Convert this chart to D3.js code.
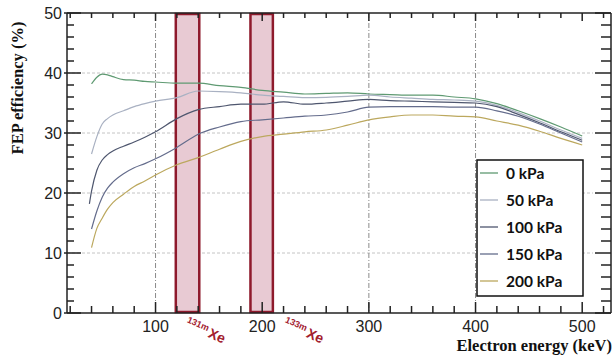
<!DOCTYPE html>
<html><head><meta charset="utf-8">
<script src="https://cdn.jsdelivr.net/npm/d3@7"></script>
<style>body{margin:0;background:#fff}svg{display:block}</style>
</head><body>
<svg id="c" width="614" height="355"></svg>
<script>
const energy = [38,40,45,50,55,60,70,80,90,100,120,140,160,180,200,220,240,260,280,300,320,340,360,380,400,420,440,460,480,500];
const kPa0   = [null,38.2,39.3,39.8,39.7,39.4,38.9,38.8,38.6,38.5,38.3,38.3,37.9,37.6,37.1,36.8,36.5,36.6,36.7,36.5,36.4,36.3,36.3,36.0,35.7,34.9,33.7,32.4,31.0,29.5];
const kPa50  = [null,26.5,29.4,31.5,32.4,33.0,33.7,34.4,34.9,35.3,35.9,37.0,36.9,36.7,36.3,36.1,35.9,35.95,36.1,36.3,36.0,35.8,35.6,35.5,35.3,34.6,33.4,32.0,30.5,29.1];
const kPa100 = [18.2,20.3,23.8,25.5,26.4,27.0,27.8,28.5,29.3,30.2,32.4,33.9,34.4,34.8,34.8,35.2,34.8,35.0,35.3,35.6,35.4,35.3,35.2,35.1,35.0,34.4,33.1,31.7,30.2,28.8];
const kPa150 = [null,14.0,17.0,19.3,20.8,21.8,23.2,24.2,24.9,25.7,27.6,29.8,31.0,31.9,32.2,32.5,32.8,33.0,33.5,34.3,34.4,34.4,34.4,34.3,34.3,33.7,32.8,31.5,30.0,28.5];
const kPa200 = [null,10.9,14.1,15.8,17.3,18.4,19.8,21.1,22.0,23.0,24.7,25.9,27.3,28.6,29.4,29.8,30.2,30.5,31.3,32.2,32.7,33.0,33.0,32.8,32.7,32.0,31.3,30.3,29.1,28.0];
const seriesNames = ["0 kPa","50 kPa","100 kPa","150 kPa","200 kPa"];
const seriesColors = ["#5f9a72","#a9b1c2","#4e566e","#646c8c","#bca85e"];
const seriesValues = [kPa0,kPa50,kPa100,kPa150,kPa200];
const xTicks = [100,200,300,400,500];
const yTicks = [0,10,20,30,40,50];
const bands = [[119,141],[189,210]];
const bandLabelAt = [129,221];
const bandLabels = [["131m","Xe"],["133m","Xe"]];

const svg = d3.select("#c");
const L=67,R=611,T=13,B=313;
const x = d3.scaleLinear().domain([17,527]).range([L,R]);
const y = d3.scaleLinear().domain([0,50]).range([B,T]);

// grid
const g = svg.append("g");
g.selectAll(".hg").data([10,20,30,40]).join("line")
 .attr("x1",L).attr("x2",R-18).attr("y1",d=>y(d)).attr("y2",d=>y(d))
 .attr("stroke","#c4c4c4").attr("stroke-width",1).attr("stroke-dasharray","3,2");
g.selectAll(".vg").data([100,200,300,400]).join("line")
 .attr("y1",T).attr("y2",B).attr("x1",d=>x(d)).attr("x2",d=>x(d))
 .attr("stroke","#8a8a8a").attr("stroke-width",1).attr("stroke-dasharray","5,2,1,2");

// bands
bands.forEach((b,i)=>{
  svg.append("rect").attr("x",x(b[0])).attr("width",x(b[1])-x(b[0]))
    .attr("y",T+1).attr("height",B-T-2)
    .attr("fill","#e8cad3").attr("stroke","#8e1a2c").attr("stroke-width",2.5);
  const t = svg.append("text").attr("transform",`translate(${x(bandLabelAt[i])},${B+9}) rotate(24)`)
    .attr("fill","#a3202e").attr("font-family","Liberation Sans, Arial, sans-serif").attr("font-weight","bold");
  t.append("tspan").attr("font-size",9).text(bandLabels[i][0]);
  t.append("tspan").attr("font-size",14).attr("dy",5).attr("dx",2).text(bandLabels[i][1]);
});

// lines
const line = d3.line().defined(d=>d[1]!=null).x(d=>x(d[0])).y(d=>y(d[1])).curve(d3.curveMonotoneX);
seriesValues.forEach((vals,i)=>{
  svg.append("path").datum(energy.map((e,j)=>[e,vals[j]]))
    .attr("d",line).attr("fill","none").attr("stroke",seriesColors[i]).attr("stroke-width",1.2);
});

// axes frame
const ax = svg.append("g").attr("stroke","#222").attr("stroke-width",1.5);
ax.append("line").attr("x1",L).attr("x2",R).attr("y1",B).attr("y2",B);
ax.append("line").attr("x1",L).attr("x2",R).attr("y1",T).attr("y2",T);
ax.append("line").attr("x1",L).attr("x2",L).attr("y1",T).attr("y2",B);
ax.append("line").attr("x1",R).attr("x2",R).attr("y1",T).attr("y2",B);

const xMinor = d3.range(20,527,20);
const yMinor = d3.range(0,51,2);
xMinor.forEach(v=>{
  const major = v%100===0;
  ax.append("line").attr("x1",x(v)).attr("x2",x(v)).attr("y1",B).attr("y2",B-(major?11:7));
  ax.append("line").attr("x1",x(v)).attr("x2",x(v)).attr("y1",T).attr("y2",T+(major?8:5));
});
yMinor.forEach(v=>{
  const major = v%10===0;
  ax.append("line").attr("y1",y(v)).attr("y2",y(v)).attr("x1",L-(major?3:0)).attr("x2",L+(major?14:7));
  ax.append("line").attr("y1",y(v)).attr("y2",y(v)).attr("x1",R).attr("x2",R-(major?16:10));
});

// tick labels
svg.selectAll(".xt").data(xTicks).join("text").attr("x",d=>x(d)).attr("y",B+19)
 .attr("text-anchor","middle").attr("font-family","Liberation Sans, Arial, sans-serif").attr("font-size",16).attr("fill","#222").text(d=>d);
svg.selectAll(".yt").data(yTicks).join("text").attr("x",L-5).attr("y",d=>y(d)+6)
 .attr("text-anchor","end").attr("font-family","Liberation Sans, Arial, sans-serif").attr("font-size",16).attr("fill","#222").text(d=>d);

// axis titles
svg.append("text").attr("x",612).attr("y",351).attr("text-anchor","end")
 .attr("font-family","Liberation Serif, Times New Roman, serif").attr("font-weight","bold").attr("font-size",16.5).attr("fill","#111")
 .text("Electron energy (keV)");
svg.append("text").attr("transform","translate(23,88) rotate(-90)").attr("text-anchor","middle")
 .attr("font-family","Liberation Serif, Times New Roman, serif").attr("font-weight","bold").attr("font-size",16.5).attr("fill","#111")
 .text("FEP efficiency (%)");

// legend
const lg = svg.append("g");
lg.append("rect").attr("x",477).attr("y",160).attr("width",106).attr("height",136)
 .attr("fill","#fff").attr("stroke","#111").attr("stroke-width",1.5);
seriesNames.forEach((n,i)=>{
  const yy = 173+i*27;
  lg.append("line").attr("x1",480).attr("x2",498).attr("y1",yy).attr("y2",yy).attr("stroke",seriesColors[i]).attr("stroke-width",1.3);
  lg.append("text").attr("x",506).attr("y",yy+5.5).attr("font-family","Lato, Open Sans, sans-serif").attr("font-weight","bold")
    .attr("font-size",15.5).attr("fill","#111").text(n);
});
</script>
</body></html>
